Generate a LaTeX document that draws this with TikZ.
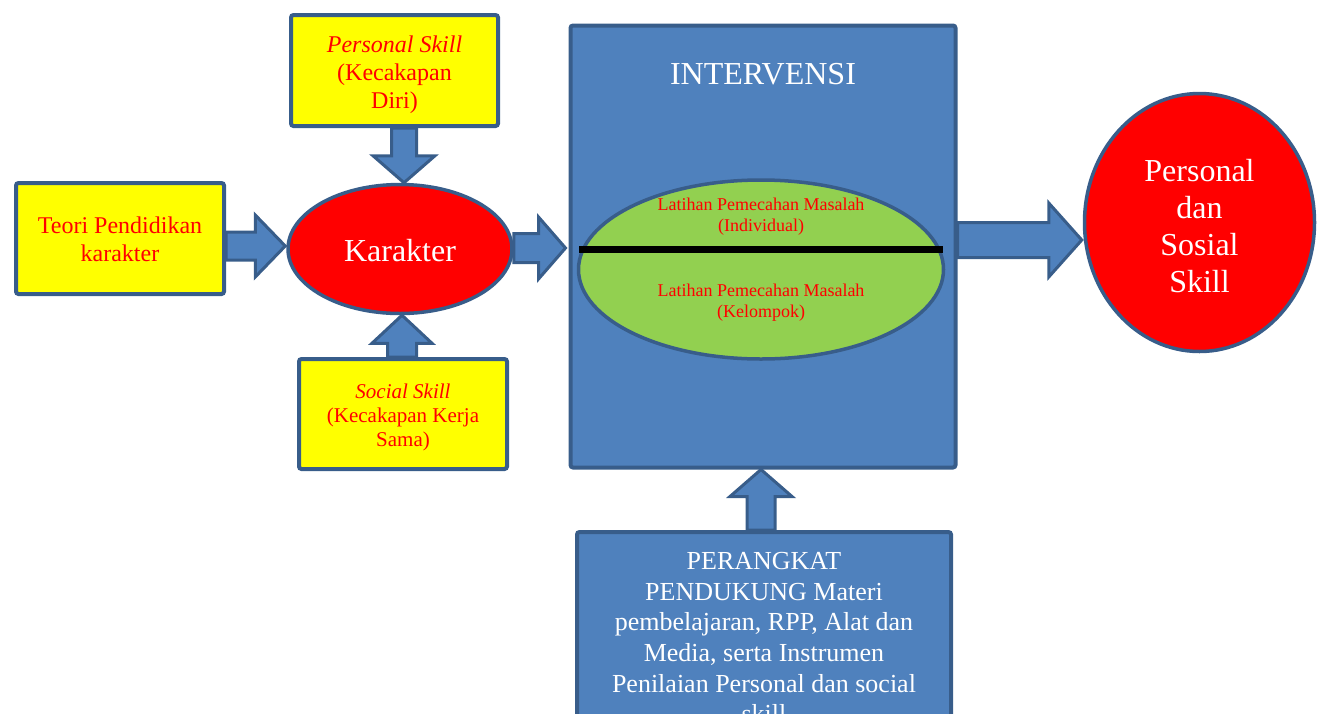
\documentclass[tikz,border=0pt]{standalone}
\usepackage{fontspec}
\setmainfont{Liberation Serif}
\usetikzlibrary{calc,shapes.geometric}
\definecolor{bfill}{HTML}{4F81BD}
\definecolor{bline}{HTML}{385D8A}
\definecolor{gfill}{HTML}{92D050}
\definecolor{yfill}{HTML}{FFFF00}
\definecolor{rtxt}{HTML}{FF0000}
\pgfdeclarelayer{bg}\pgfsetlayers{bg,main}
\tikzset{
  ybox/.style={draw=bline, line width=4pt, fill=yfill, rounded corners=2.5pt, inner sep=0pt},
  bbox/.style={draw=bline, line width=4pt, fill=bfill, rounded corners=2.5pt, inner sep=0pt},
  barrow/.style={draw=bline, line width=3pt, fill=bfill, line join=miter},
  redell/.style={ellipse, draw=bline, line width=3.5pt, fill=red, inner sep=0pt},
  greenell/.style={ellipse, draw=bline, line width=3.5pt, fill=gfill, inner sep=0pt},
  wtext/.style={text=white, align=center, inner sep=0pt},
  rtext/.style={text=rtxt, align=center, inner sep=0pt},
  fA/.style={font=\fontsize{24}{28}\selectfont},
  fB/.style={font=\fontsize{21}{24}\selectfont},
  fC/.style={font=\fontsize{32}{37}\selectfont},
  fD/.style={font=\fontsize{18}{21}\selectfont},
  fE/.style={font=\fontsize{26}{30.7}\selectfont},
}
\newcommand\hbarrow[5]{\draw[barrow] let \p1=#1, \p2=#2 in
  (\x1,{\y2+#4}) -- ({\x2-#3},{\y2+#4}) -- ({\x2-#3},{\y2+#5}) -- (\x2,\y2) --
  ({\x2-#3},{\y2-#5}) -- ({\x2-#3},{\y2-#4}) -- (\x1,{\y2-#4}) -- cycle;}
\newcommand\ubarrow[5]{\draw[barrow] let \p1=#1, \p2=#2 in
  ({\x2-#4},\y1) -- ({\x2-#4},{\y2-#3}) -- ({\x2-#5},{\y2-#3}) -- (\x2,\y2) --
  ({\x2+#5},{\y2-#3}) -- ({\x2+#4},{\y2-#3}) -- ({\x2+#4},\y1) -- cycle;}
\newcommand\dbarrow[5]{\draw[barrow] let \p1=#1, \p2=#2 in
  ({\x2-#4},\y1) -- ({\x2-#4},{\y2+#3}) -- ({\x2-#5},{\y2+#3}) -- (\x2,\y2) --
  ({\x2+#5},{\y2+#3}) -- ({\x2+#4},{\y2+#3}) -- ({\x2+#4},\y1) -- cycle;}
\begin{document}
\begin{tikzpicture}[x=1pt,y=-1pt]
\useasboundingbox (0,0) rectangle (1320,713);
% shapes
\node[ybox, minimum width=208, minimum height=111] (teori) at (120,238.5) {};
\node[ybox, minimum width=207, minimum height=111] (pers) at (394.5,70.5) {};
\node[ybox, minimum width=208, minimum height=110] (soc) at (403,414) {};
\node[redell, minimum width=224, minimum height=129] (kar) at (400,249) {};
\node[bbox, minimum width=385, minimum height=442] (int) at (763,246.5) {};
\node[greenell, minimum width=365, minimum height=179] (ge) at (761,269.5) {};
\coordinate (l1) at ($(ge.center)+(-182,-20.5)$);
\coordinate (l2) at ($(ge.center)+(182,-20.5)$);
\draw[black, line width=7pt] (l1) -- (l2);
\node[redell, minimum width=230, minimum height=258] (out) at (1199.5,222.5) {};
\node[bbox, minimum width=374, minimum height=250] (per) at (764,657) {};
% texts
\node[rtext, fA] (teoritext) at ($(teori.center)+(0,1)$) {Teori Pendidikan\\karakter};
\node[rtext, fA] (perstext) at ($(pers.center)+(0,4.5)$) {\textit{Personal Skill}\\(Kecakapan\\Diri)};
\node[rtext, fB] (soctext) at ($(soc.center)+(0,3)$) {\textit{Social Skill}\\(Kecakapan Kerja\\Sama)};
\node[wtext, fC] (kartext) at ($(kar.center)+(0,2)$) {Karakter};
\node[wtext, fC] (inttitle) at (763,74) {INTERVENSI};
\node[rtext, fD] (ind) at (761,216.5) {Latihan Pemecahan Masalah\\(Individual)};
\node[rtext, fD] (kel) at (761,302.5) {Latihan Pemecahan Masalah\\(Kelompok)};
\node[wtext, fC] (outtext) at ($(out.center)+(0,3.5)$) {Personal\\dan\\Sosial\\Skill};
\node[wtext, fE, anchor=north] (pertext) at ($(per.north)+(0,22)$) {PERANGKAT\\PENDUKUNG Materi\\pembelajaran, RPP, Alat dan\\Media, serta Instrumen\\Penilaian Personal dan social\\skill};
% block arrows
\begin{pgfonlayer}{bg}
\hbarrow{(teori.east)}{($(kar.west)+(-1,-3)$)}{30pt}{14pt}{31pt}
\hbarrow{(kar.east)}{($(int.west)+(-3,1.5)$)}{27pt}{14.5pt}{31pt}
\hbarrow{(int.east)}{($(out.west)+(-1,17.5)$)}{33pt}{17.5pt}{37pt}
\dbarrow{(pers.south)}{($(kar.north)+(4,0)$)}{27pt}{12.5pt}{31pt}
\ubarrow{(soc.north)}{($(kar.south)+(2,0)$)}{28pt}{14.5pt}{30pt}
\ubarrow{(per.north)}{($(int.south)+(-2,0)$)}{27pt}{14pt}{31pt}
\end{pgfonlayer}
\end{tikzpicture}
\end{document}
